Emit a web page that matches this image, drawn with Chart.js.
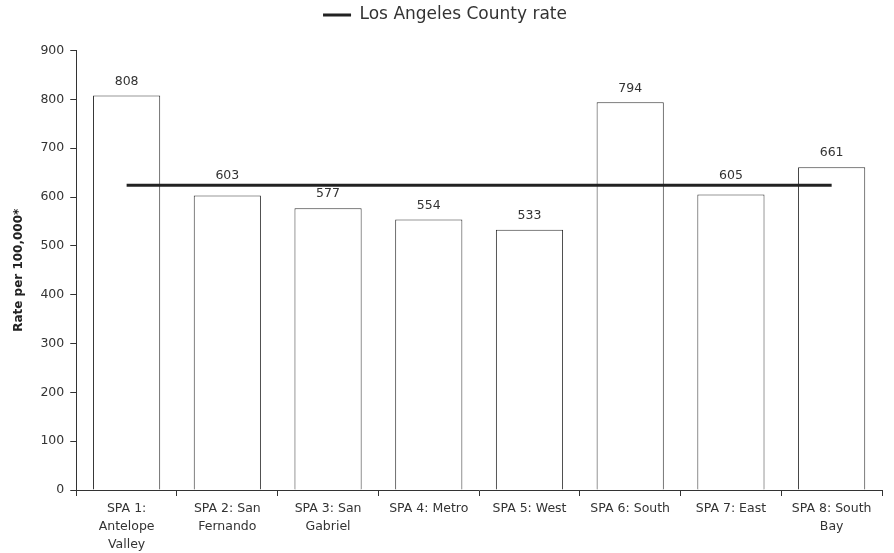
<!DOCTYPE html>
<html>
<head>
<meta charset="utf-8">
<script src="https://cdn.jsdelivr.net/npm/chart.js@4"></script>
<style>
  html, body { margin: 0; padding: 0; background: #fff; }
  #wrap { width: 894px; height: 553px; }
</style>
</head>
<body>
<div id="wrap"><canvas id="chart" width="894" height="553"></canvas></div>
<script>
const categories = [
  ['SPA 1:', 'Antelope', 'Valley'],
  ['SPA 2: San', 'Fernando'],
  ['SPA 3: San', 'Gabriel'],
  'SPA 4: Metro',
  'SPA 5: West',
  'SPA 6: South',
  'SPA 7: East',
  ['SPA 8: South', 'Bay']
];
const spaRates = [808, 603, 577, 554, 533, 794, 605, 661];
const countyRate = 624;
const yTicks = [0, 100, 200, 300, 400, 500, 600, 700, 800, 900];

const FONT = 'Verdana, "DejaVu Sans", sans-serif';
Chart.defaults.font.family = FONT;
Chart.defaults.font.size = 12.5;
Chart.defaults.color = '#333';

// value labels above bars, lifted over the county line when they would touch it
const barLabels = {
  id: 'barLabels',
  afterDatasetsDraw(chart) {
    const ctx = chart.ctx;
    const meta = chart.getDatasetMeta(1);
    const lineY = chart.scales.y.getPixelForValue(countyRate);
    ctx.save();
    ctx.font = '12.5px ' + FONT;
    ctx.fillStyle = '#333';
    ctx.textAlign = 'center';
    ctx.textBaseline = 'middle';
    meta.data.forEach((bar, i) => {
      let y = bar.y - 14;
      if (y - 5 < lineY + 1.5 && y + 5 > lineY - 1.5) y = lineY - 10;
      ctx.fillText(spaRates[i], bar.x, y);
    });
    ctx.restore();
  }
};

// more room under the legend
const legendGap = {
  id: 'legendGap',
  beforeInit(chart) {
    const fit = chart.legend.fit;
    chart.legend.fit = function () {
      fit.call(this);
      this.height += 17;
    };
  }
};

new Chart(document.getElementById('chart'), {
  data: {
    labels: categories,
    datasets: [
      {
        type: 'line',
        label: 'Los Angeles County rate',
        data: categories.map(() => countyRate),
        borderColor: '#222',
        backgroundColor: '#222',
        borderWidth: 3,
        pointRadius: 0,
        order: 0
      },
      {
        type: 'bar',
        label: 'SPA',
        data: spaRates,
        backgroundColor: '#fff',
        borderColor: '#333',
        borderWidth: 1,
        categoryPercentage: 1,
        barPercentage: 0.667,
        order: 1
      }
    ]
  },
  options: {
    responsive: false,
    animation: false,
    layout: { padding: { top: 0, right: 12, bottom: 0, left: 8 } },
    plugins: {
      legend: {
        position: 'top',
        labels: {
          filter: item => item.datasetIndex === 0,
          usePointStyle: true,
          pointStyle: 'line',
          pointStyleWidth: 28,
          boxHeight: 3,
          font: { size: 17 },
          color: '#333',
          padding: 6.5
        }
      },
      tooltip: { enabled: false }
    },
    scales: {
      x: {
        afterFit: scale => { scale.height = 63; },
        grid: { drawOnChartArea: false, drawTicks: true, tickLength: 6, color: '#333', offset: true },
        border: { color: '#333', width: 1 },
        ticks: { maxRotation: 0, autoSkip: false, color: '#333', padding: 4, font: { size: 12.5, lineHeight: 1.44 } }
      },
      y: {
        min: 0,
        max: 900,
        afterBuildTicks: axis => { axis.ticks = yTicks.map(v => ({ value: v })); },
        grid: { drawOnChartArea: false, drawTicks: true, tickLength: 6, color: '#333' },
        border: { color: '#333', width: 1 },
        ticks: { color: '#333', font: { size: 12.5 }, padding: 6 },
        title: {
          display: true,
          text: 'Rate per 100,000*',
          font: { size: 12, weight: 'bold' },
          color: '#222',
          padding: { bottom: 8 }
        }
      }
    }
  },
  plugins: [barLabels, legendGap]
});
</script>
</body>
</html>
